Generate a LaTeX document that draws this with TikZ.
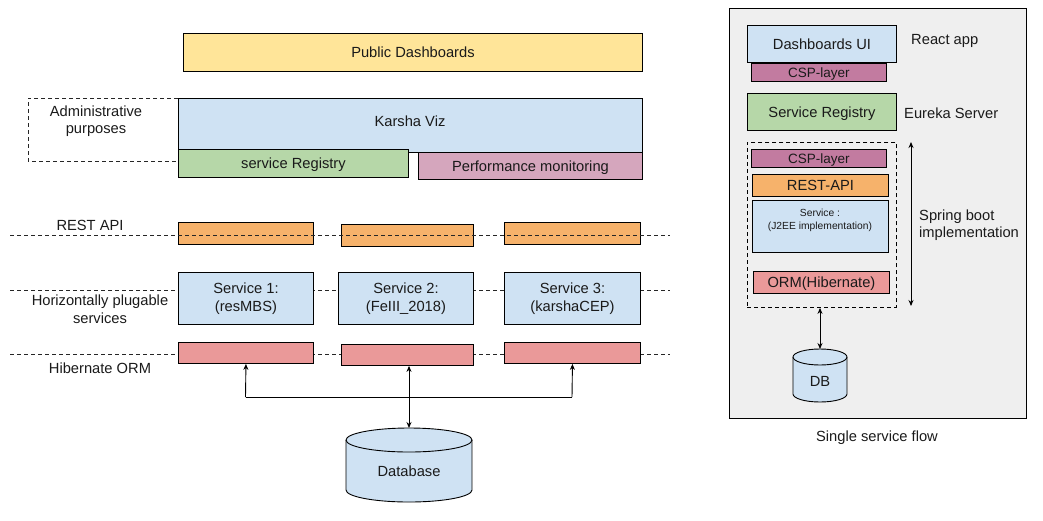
\documentclass[tikz,border=0pt]{standalone}
\usepackage{fontspec}
\setmainfont{Liberation Sans}
\usetikzlibrary{arrows.meta}
\definecolor{tcol}{HTML}{1A1A1A}
\definecolor{cyellow}{HTML}{FFE599}
\definecolor{cblue}{HTML}{CFE2F3}
\definecolor{cgreen}{HTML}{B6D7A8}
\definecolor{cpink}{HTML}{D5A6BD}
\definecolor{corange}{HTML}{F6B26B}
\definecolor{cred}{HTML}{EA9999}
\definecolor{cmauve}{HTML}{C27BA0}
\definecolor{cgray}{HTML}{EFEFEF}
\begin{document}
\begin{tikzpicture}[x=1pt,y=-1pt,
  mbox/.style={draw=black, line width=0.9pt, anchor=north west, inner sep=0pt, align=center, text=tcol, font=\fontsize{14.7}{17.5}\selectfont},
  box/.style={mbox, text height=12pt, text depth=1.5pt},
  lbl/.style={align=center, text=tcol, font=\fontsize{14.7}{17.5}\selectfont, inner sep=0pt},
  dline/.style={draw=black!85, line width=0.9pt, dash pattern=on 4pt off 3pt},
  arr/.style={line width=0.9pt, -{Stealth[length=6pt,width=5pt]}},
  darr/.style={line width=0.9pt, {Stealth[length=6pt,width=5pt]}-{Stealth[length=6pt,width=5pt]}}]
\useasboundingbox (0,0) rectangle (1043,520);

% ---------- left part ----------
\node[box, fill=cyellow, minimum width=459, minimum height=38] (pub) at (183,33) {Public Dashboards};

\coordinate (adTR) at (178,98);
\coordinate (adTL) at (28,98);
\coordinate (adBL) at (28,161);
\coordinate (adBR) at (178,161);
\draw[dline] (adTR) -- (adTL) -- (adBL) -- (adBR);
\node[lbl] (admin) at (96,121) {Administrative\\purposes};

\node[box, fill=cblue, minimum width=464, minimum height=54] (kviz) at (178,98) {};
\node[lbl] (kvizt) at (410,121) {Karsha Viz};
\node[box, fill=cgreen, minimum width=230, minimum height=28] (sreg) at (178,149) {service Registry};
\node[box, fill=cpink, minimum width=224, minimum height=27] (perf) at (418,152) {Performance monitoring};

% service and ORM dashed lines (behind boxes)
\coordinate (sL) at (10,290);
\coordinate (sR) at (670,290);
\draw[dline] (sL) -- (sR);
\coordinate (oL) at (10,354);
\coordinate (oR) at (670,354);
\draw[dline] (oL) -- (oR);

\node[box, fill=corange, minimum width=135, minimum height=22] (rest1) at (178,222) {};
\node[box, fill=corange, minimum width=132, minimum height=22] (rest2) at (341,224) {};
\node[box, fill=corange, minimum width=136, minimum height=22] (rest3) at (504,222) {};
\coordinate (rL) at (10,235);
\coordinate (rR) at (670,235);
\draw[dline] (rL) -- (rR);
\node[lbl] (restlbl) at (90,225) {REST API};

\node[mbox, fill=cblue, minimum width=135, minimum height=52] (svc1) at (178,272) {Service 1:\\(resMBS)};
\node[mbox, fill=cblue, minimum width=135, minimum height=52] (svc2) at (338,272) {Service 2:\\(FeIII\_2018)};
\node[mbox, fill=cblue, minimum width=136, minimum height=52] (svc3) at (504,272) {Service 3:\\(karshaCEP)};
\node[lbl] (svclbl) at (100,309) {Horizontally plugable\\services};

\node[box, fill=cred, minimum width=135, minimum height=21] (orm1) at (178,342) {};
\node[box, fill=cred, minimum width=132, minimum height=21] (orm2) at (341,344) {};
\node[box, fill=cred, minimum width=136, minimum height=21] (orm3) at (504,342) {};
\node[lbl] (ormlbl) at (100,368) {Hibernate ORM};

% database cylinder
\fill[cblue] (346,440) rectangle (472,490);
\fill[cblue] (409,490) ellipse [x radius=63, y radius=12];
\draw[line width=0.9pt, fill=cblue] (409,440) ellipse [x radius=63, y radius=12];
\draw[line width=0.9pt] (346,440) -- (346,490) arc[start angle=180, end angle=0, x radius=63, y radius=12] -- (472,440);
\coordinate (dbtop) at (409,428);
\node[lbl] (db) at (409,471) {Database};

% connectors
\coordinate (busL) at (245.5,397);
\coordinate (busR) at (572,397);
\draw[line width=0.9pt] (busL) -- (busR);
\draw[arr] (busL) -- (orm1.south);
\draw[arr] (busR) -- (orm3.south);
\draw[darr] (orm2.south -| dbtop) -- (dbtop);

% ---------- right panel ----------
\node[draw=black, line width=0.9pt, fill=cgray, anchor=north west, minimum width=297, minimum height=410, inner sep=0pt] (panel) at (729,8) {};

\node[box, fill=cblue, minimum width=149, minimum height=37] (dui) at (747,25) {Dashboards UI};
\node[box, fill=cmauve, minimum width=135, minimum height=18, font=\fontsize{13.5}{15}\selectfont, text height=11pt, text depth=1.5pt] (csp1) at (751,63) {CSP-layer};
\node[lbl, anchor=west] (react) at (911,41) {React app};

\node[box, fill=cgreen, minimum width=149, minimum height=37] (sreg2) at (747,93) {Service Registry};
\node[lbl, anchor=west] (eureka) at (904,113) {Eureka Server};

\node[draw=black, line width=0.9pt, dash pattern=on 4pt off 3pt, anchor=north west, minimum width=149, minimum height=165, inner sep=0pt] (sb) at (747,142) {};
\node[box, fill=cmauve, minimum width=135, minimum height=18, font=\fontsize{13.5}{15}\selectfont, text height=11pt, text depth=1.5pt] (csp2) at (751,149) {CSP-layer};
\node[box, fill=corange, minimum width=136, minimum height=22] (restj) at (752,174) {REST-API};
\node[box, fill=cblue, minimum width=136, minimum height=52] (svcj) at (752,200) {};
\node[lbl, font=\fontsize{10.3}{13}\selectfont] (svcjt) at (820,220) {Service :\\(J2EE implementation)};
\node[box, fill=cred, minimum width=136, minimum height=22] (ormj) at (753,271) {ORM(Hibernate)};

\coordinate (sbT) at (911,142);
\coordinate (sbB) at (911,306);
\draw[darr] (sbT) -- (sbB);
\node[lbl, anchor=west, align=left] (spring) at (919,225) {Spring boot\\implementation};

% DB cylinder
\fill[cblue] (793,357) rectangle (847,394);
\fill[cblue] (820,394) ellipse [x radius=27, y radius=8];
\draw[line width=0.9pt, fill=cblue] (820,357) ellipse [x radius=27, y radius=8];
\draw[line width=0.9pt] (793,357) -- (793,394) arc[start angle=180, end angle=0, x radius=27, y radius=8] -- (847,357);
\coordinate (db2top) at (820,349);
\node[lbl] (db2) at (820,381) {DB};
\draw[darr] (sb.south -| db2top) -- (db2top);

\node[lbl] (single) at (877,438) {Single service flow};
\end{tikzpicture}
\end{document}
